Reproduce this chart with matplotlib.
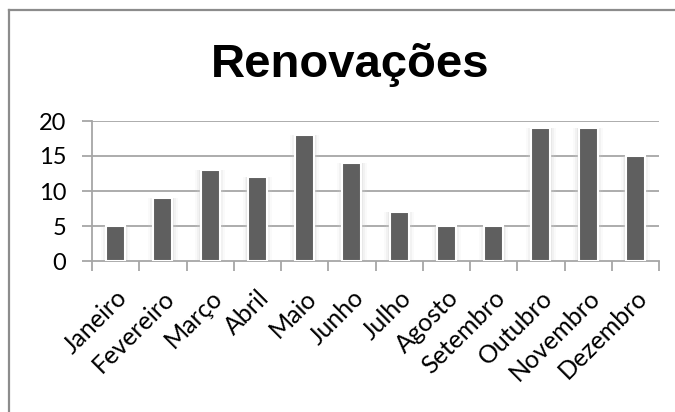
import matplotlib
matplotlib.use("Agg")
import matplotlib.pyplot as plt
from matplotlib.lines import Line2D
import numpy as np

months = ["Janeiro", "Fevereiro", "Março", "Abril", "Maio", "Junho",
          "Julho", "Agosto", "Setembro", "Outubro", "Novembro", "Dezembro"]
values = [5, 9, 13, 12, 18, 14, 7, 5, 5, 19, 19, 15]
yticks = [0, 5, 10, 15, 20]
title = "Renovações"

W, H = 675, 412
fig = plt.figure(figsize=(W / 100, H / 100), dpi=100)
fig.patch.set_facecolor("white")

# outer chart border (top and left visible)
fig.add_artist(Line2D([9 / W, 9 / W], [0, 1 - 10 / H], transform=fig.transFigure,
                      color="#8c8c8c", lw=1.6))
fig.add_artist(Line2D([9 / W, 1], [1 - 10 / H, 1 - 10 / H], transform=fig.transFigure,
                      color="#8c8c8c", lw=1.6))

left, right, top, bottom = 92, 659, 121, 261
ax = fig.add_axes([left / W, 1 - bottom / H, (right - left) / W, (bottom - top) / H])

x = np.arange(len(months))
grid_c = "#a6a6a6"
for yv in yticks[1:]:
    ax.axhline(yv, color=grid_c, lw=1.3, zorder=1)

# soft shadow/glow behind bars
for dw, a in [(0.62, 0.10), (0.54, 0.18), (0.47, 0.30)]:
    ax.bar(x, values, width=dw, color="#d0d0d0", alpha=a, lw=0, zorder=2)
ax.bar(x, values, width=0.40, color="#5f5f5f", edgecolor="white", lw=1.5, zorder=3)

ax.set_xlim(-0.5, len(months) - 0.5)
ax.set_ylim(0, 20)
ax.set_yticks(yticks)
ax.set_yticklabels([str(v) for v in yticks])
ax.set_xticks(np.arange(len(months) + 1) - 0.5)
ax.set_xticklabels([])
ax.set_xticks(x, minor=True)
ax.set_xticklabels(months, minor=True, rotation=45, ha="right",
                   rotation_mode="anchor", fontsize=18, family="Lato")
ax.tick_params(axis="x", which="minor", length=0, pad=18)
ax.tick_params(axis="x", which="major", length=7, width=1.3, color=grid_c, direction="out")
ax.tick_params(axis="y", length=7.5, width=1.3, color=grid_c, direction="out",
               labelsize=17, pad=11)
for lab in ax.get_yticklabels():
    lab.set_family("Lato")

for s in ["top", "right"]:
    ax.spines[s].set_visible(False)
for s in ["left", "bottom"]:
    ax.spines[s].set_color(grid_c)
    ax.spines[s].set_linewidth(1.3)

fig.text(350 / W, 1 - 77 / H, title, ha="center", va="baseline",
         fontsize=34, fontweight="bold", family="Liberation Sans")

fig.savefig("out.png", dpi=100, facecolor="white")
